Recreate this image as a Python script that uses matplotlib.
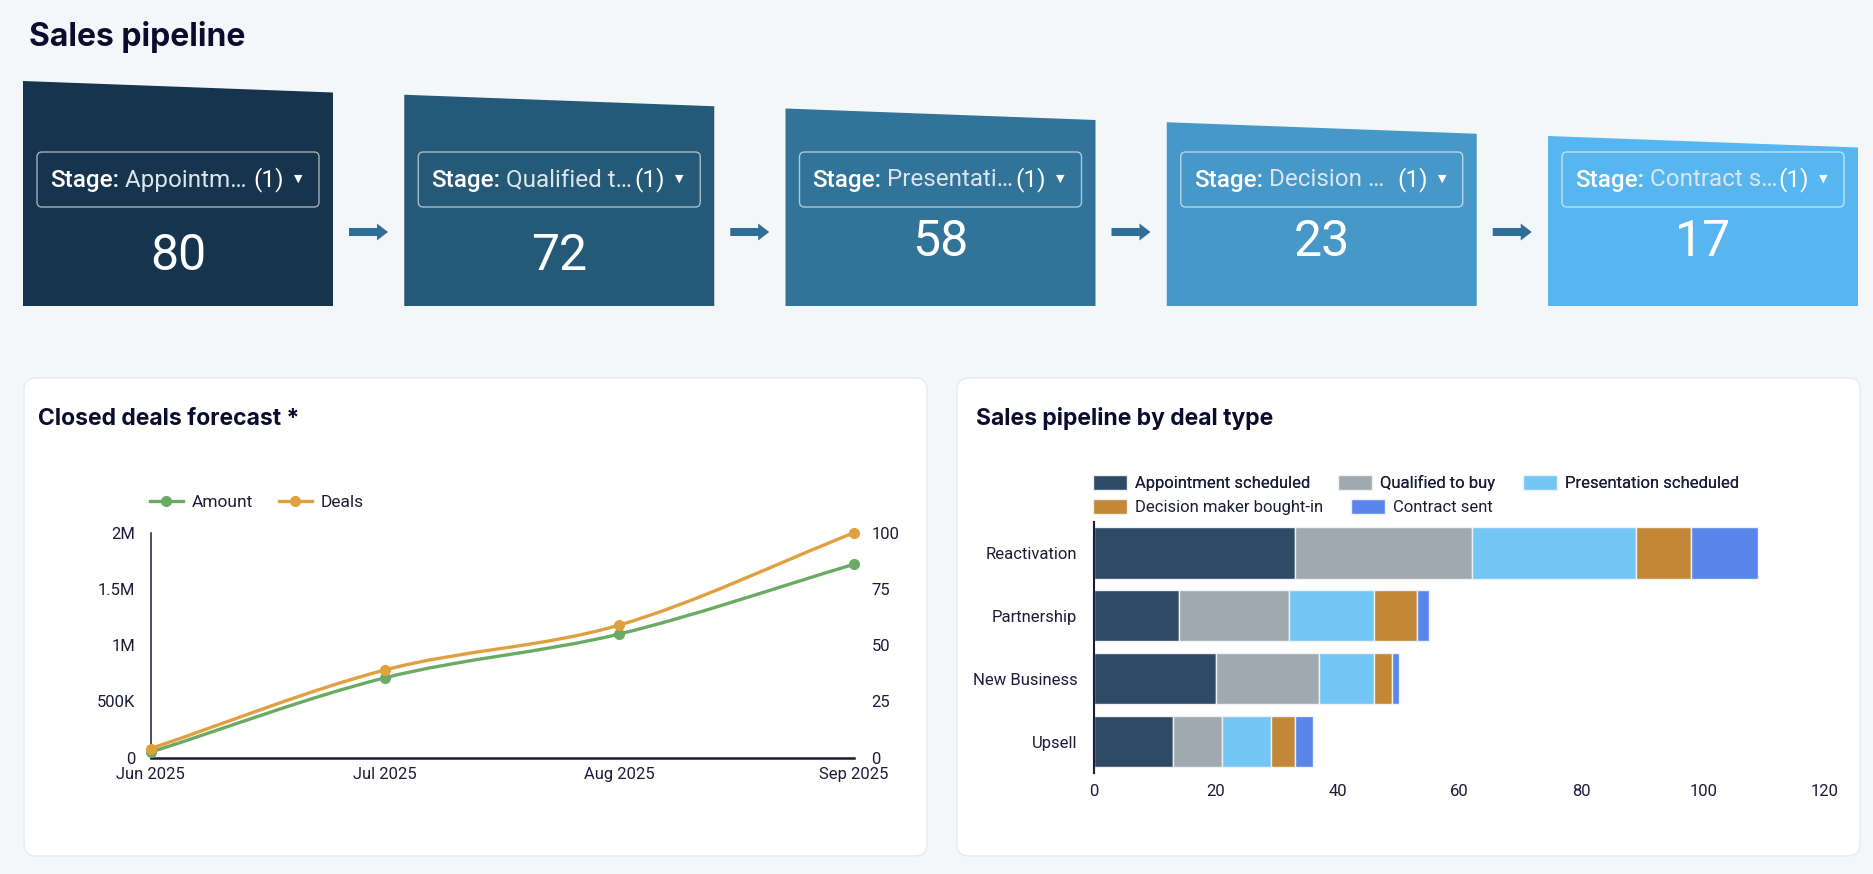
import numpy as np
import matplotlib
matplotlib.use("Agg")
import matplotlib.pyplot as plt
from matplotlib.patches import Polygon, FancyBboxPatch, FancyArrow, PathPatch
from matplotlib.lines import Line2D
from matplotlib.path import Path

plt.rcParams['font.family'] = ['Roboto', 'DejaVu Sans']

# ---- data ----
stage_names = ['Appointment scheduled', 'Qualified to buy', 'Presentation scheduled',
               'Decision maker bought-in', 'Contract sent']
stage_short = ['Appointm…', 'Qualified t…', 'Presentati…', 'Decision …', 'Contract s…']

deal_types = ['Reactivation', 'Partnership', 'New Business', 'Upsell']
appointment = [33, 14, 20, 13]
qualified = [29, 18, 17, 8]
presentation = [27, 14, 9, 8]
decision = [9, 7, 3, 4]
contract = [11, 2, 1, 3]
stage_values = [appointment, qualified, presentation, decision, contract]
stage_colors = ['#2e4a66', '#a0a8b0', '#74c6f4', '#c28837', '#5a86ea']

months = ['Jun 2025', 'Jul 2025', 'Aug 2025', 'Sep 2025']
amount = [48000, 710000, 1100000, 1720000]
deals = [4, 39, 59, 100]

amount_ticks = [0, 500000, 1000000, 1500000, 2000000]
amount_labels = ['0', '500K', '1M', '1.5M', '2M']
deals_ticks = [0, 25, 50, 75, 100]

box_colors = ['#17344f', '#245a77', '#327399', '#4698c8', '#57b6f0']

W, H = 1874, 874
BG = '#f4f7f9'
INK = '#1c1c3a'
TITLE = '#0b0b2e'
GREEN = '#6aab64'
ORANGE = '#e0a040'

fig = plt.figure(figsize=(W / 100, H / 100), dpi=100)
fig.patch.set_facecolor(BG)

# background layer in pixel coordinates
bg = fig.add_axes([0, 0, 1, 1])
bg.set_xlim(0, W)
bg.set_ylim(H, 0)
bg.axis('off')

bg.text(29, 46, 'Sales pipeline', fontsize=23, fontweight='bold', color=TITLE,
        family=['Inter', 'DejaVu Sans'], va='baseline')

# funnel boxes
for i, (name, col) in enumerate(zip(stage_short, box_colors)):
    l = 23 + i * 381.25
    r = l + 310
    tl = 81 + i * 13.75
    tr = tl + 11.5
    b = 306
    bg.add_patch(Polygon([(l, tl), (r, tr), (r, b), (l, b)], closed=True,
                         facecolor=col, edgecolor='none'))
    bg.add_patch(FancyBboxPatch((l + 14, 152), r - l - 28, 55,
                                boxstyle='round,pad=0,rounding_size=5',
                                facecolor='none', edgecolor=(1, 1, 1, 0.6), lw=1))
    t1 = bg.text(l + 27, 186.5, 'Stage:', fontsize=17.5, color='white',
                 fontweight='medium', va='baseline')
    bg.annotate(' ' + name, xy=(1, 0), xycoords=t1, va='bottom', ha='left',
                fontsize=17.5, color='#dce5ec')
    bg.text(r - 64.5, 186.5, '(1)', fontsize=17.5, color='white', va='baseline', ha='center')
    bg.text(r - 35, 179, '▼', fontsize=8, color='white', va='center', ha='center',
            family=['DejaVu Sans'])
    total = sum(stage_values[i])
    bg.text((l + r) / 2, 256 if i < 2 else 242, str(total), fontsize=36,
            color='white', ha='center', va='center')
    if i < 4:
        bg.add_patch(FancyArrow(r + 16, 232, 39, 0, width=8, head_width=17,
                                head_length=11, length_includes_head=True,
                                color='#2f6f97', lw=0))

# cards
for x0 in (24, 957):
    bg.add_patch(FancyBboxPatch((x0, 378), 903, 478,
                                boxstyle='round,pad=0,rounding_size=12',
                                facecolor='white', edgecolor='#e7ebef', lw=1))
bg.text(38, 425, 'Closed deals forecast *', fontsize=16.5, fontweight='bold',
        color=TITLE, family=['Inter', 'DejaVu Sans'], va='baseline')
bg.text(976, 425, 'Sales pipeline by deal type', fontsize=16.5, fontweight='bold',
        color=TITLE, family=['Inter', 'DejaVu Sans'], va='baseline')


def fig_rect(x0, y0, x1, y1):
    return [x0 / W, 1 - y1 / H, (x1 - x0) / W, (y1 - y0) / H]


def smooth_path(xs, ys):
    xs = np.asarray(xs, float)
    ys = np.asarray(ys, float)
    d = np.diff(ys) / np.diff(xs)
    m = np.empty(len(xs))
    m[0], m[-1] = d[0], d[-1]
    m[1:-1] = (d[:-1] + d[1:]) / 2
    verts = [(xs[0], ys[0])]
    codes = [Path.MOVETO]
    for k in range(len(xs) - 1):
        h = xs[k + 1] - xs[k]
        verts += [(xs[k] + h / 3, ys[k] + m[k] * h / 3),
                  (xs[k + 1] - h / 3, ys[k + 1] - m[k + 1] * h / 3),
                  (xs[k + 1], ys[k + 1])]
        codes += [Path.CURVE4] * 3
    return Path(verts, codes)


# ---- closed deals forecast ----
ax = fig.add_axes(fig_rect(150.7, 533, 853.5, 757.5))
ax.set_facecolor('none')
ax2 = ax.twinx()
ax2.set_facecolor('none')
x = np.arange(len(months))

ax.add_patch(PathPatch(smooth_path(x, amount), fill=False, edgecolor=GREEN,
                       lw=2.4, clip_on=False, zorder=3))
ax.plot(x, amount, 'o', color=GREEN, ms=7, clip_on=False, zorder=4)
ax2.add_patch(PathPatch(smooth_path(x, deals), fill=False, edgecolor=ORANGE,
                        lw=2.4, clip_on=False, zorder=3))
ax2.plot(x, deals, 'o', color=ORANGE, ms=7, clip_on=False, zorder=4)

ax.set_xlim(0, len(months) - 1)
ax.set_ylim(0, 2000000)
ax2.set_ylim(0, 100)
ax.set_xticks(x, months)
ax.set_yticks(amount_ticks, amount_labels)
ax2.set_yticks(deals_ticks, [str(v) for v in deals_ticks])

for s in ('top', 'right'):
    ax.spines[s].set_visible(False)
ax.spines['left'].set_color(INK)
ax.spines['left'].set_linewidth(1.1)
ax.spines['bottom'].set_color(INK)
ax.spines['bottom'].set_linewidth(1.8)
for s in ax2.spines.values():
    s.set_visible(False)
ax.tick_params(axis='y', length=0, pad=11, labelsize=12, labelcolor=INK)
ax.tick_params(axis='x', length=0, pad=7, labelsize=12, labelcolor=INK)
ax2.tick_params(axis='y', length=0, pad=13, labelsize=12, labelcolor=INK)

handles = [Line2D([], [], color=GREEN, lw=2.4, marker='o', ms=7),
           Line2D([], [], color=ORANGE, lw=2.4, marker='o', ms=7)]
fig.legend(handles, ['Amount', 'Deals'], loc='center left',
           bbox_to_anchor=(150 / W, 1 - 502.7 / H), ncol=2, frameon=False,
           fontsize=12.5, labelcolor=INK, handlelength=1.9, handletextpad=0.5,
           columnspacing=1.5, borderpad=0, borderaxespad=0)

# ---- sales pipeline by deal type ----
bx = fig.add_axes(fig_rect(1094, 521.5, 1825, 773))
bx.set_facecolor('none')
y = np.arange(len(deal_types))
left = np.zeros(len(deal_types))
bars = []
for name, vals, col in zip(stage_names, stage_values, stage_colors):
    bars.append(bx.barh(y, vals, left=left, height=0.815, color=col,
                        edgecolor='#eef2f5', lw=1, label=name))
    left += np.asarray(vals)
bx.set_xlim(0, 120)
bx.set_ylim(len(deal_types) - 0.5, -0.5)
bx.set_xticks(range(0, 121, 20))
bx.set_yticks(y, deal_types)
for s in ('top', 'right', 'bottom'):
    bx.spines[s].set_visible(False)
bx.spines['left'].set_color(INK)
bx.spines['left'].set_linewidth(1.5)
bx.tick_params(axis='y', length=0, pad=12, labelsize=12, labelcolor=INK)
bx.tick_params(axis='x', length=0, pad=8, labelsize=12, labelcolor=INK)

leg_kw = dict(loc='center left', frameon=False, fontsize=12, labelcolor=INK,
              handlelength=2.04, handleheight=1.02, handletextpad=0.46,
              columnspacing=1.7, borderpad=0, borderaxespad=0)
leg1 = fig.legend(bars[:3], stage_names[:3], ncol=3,
                  bbox_to_anchor=(1093 / W, 1 - 482.7 / H), **leg_kw)
fig.add_artist(leg1)
fig.legend(bars[3:], stage_names[3:], ncol=2,
           bbox_to_anchor=(1093 / W, 1 - 506.7 / H), **leg_kw)

fig.savefig('out.png', dpi=100, facecolor=BG)
